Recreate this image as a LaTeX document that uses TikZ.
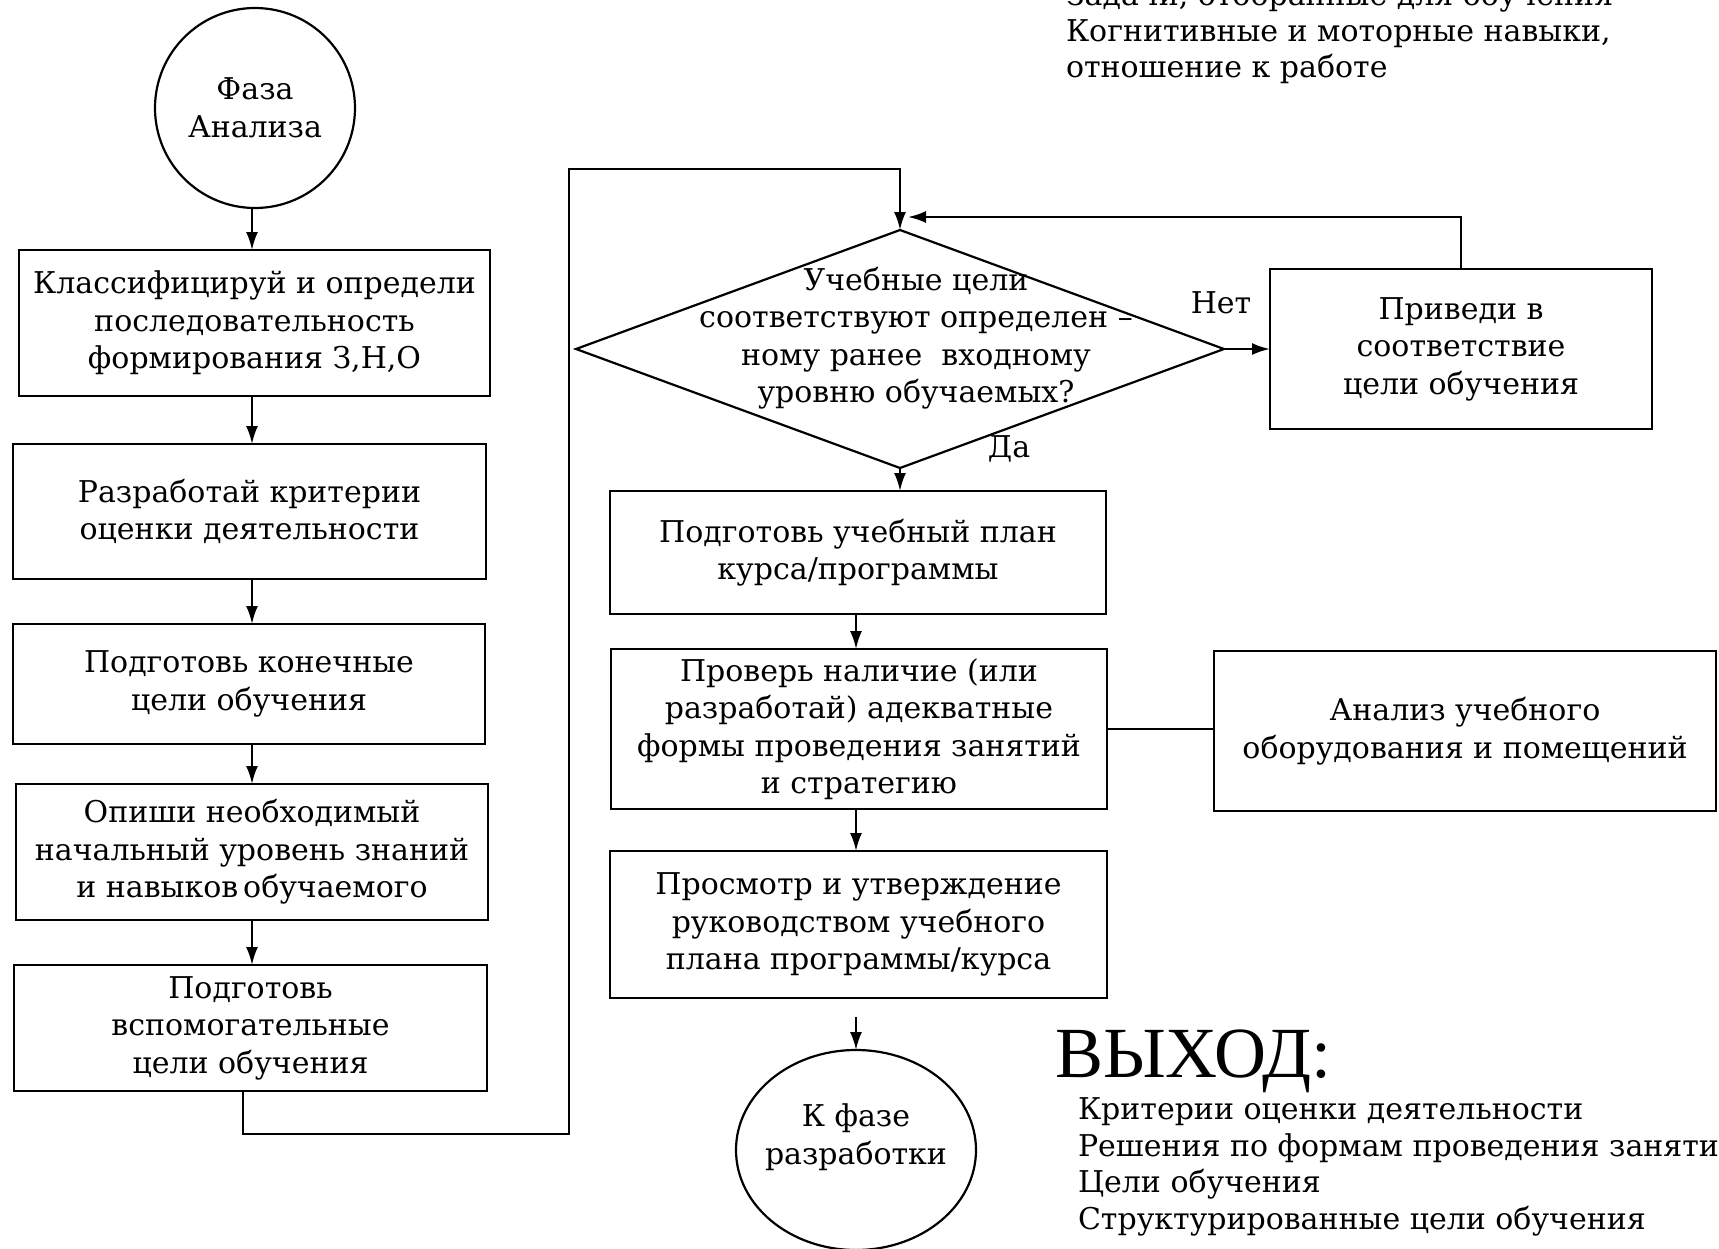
\documentclass[tikz,border=0pt]{standalone}
\usepackage{fontspec}
\setmainfont{DejaVu Serif}
\newfontfamily\headfont{Liberation Serif}
\usetikzlibrary{shapes.geometric,arrows.meta}

\begin{document}
\begin{tikzpicture}[x=1pt,y=-1pt,
  line width=2.2pt,
  every node/.style={inner sep=0pt, outer sep=0pt},
  txt/.style={font=\fontsize{30}{37.5}\selectfont, align=center},
  box/.style={draw, rectangle, txt},
  lst/.style={font=\fontsize{30}{36}\selectfont, anchor=base west},
  arr/.style={-{Latex[length=18pt,width=12pt]}}]

\fill[white] (0,0) rectangle (1719,1248);
\clip (0,0) rectangle (1719,1248);

% ---------- left column ----------
\node[circle, draw, minimum size=200, txt] (c1) at (255,108) {Фаза\\Анализа};
\node[box, minimum width=471, minimum height=146] (b1) at (254.5,323)
  {Классифицируй и определи\\последовательность\\формирования З,Н,О};
\node[box, minimum width=473, minimum height=135] (b2) at (249.5,511.5)
  {Разработай критерии\\оценки деятельности};
\node[box, minimum width=472, minimum height=120] (b3) at (249,684)
  {Подготовь конечные\\цели обучения};
\node[box, minimum width=472, minimum height=136] (b4) at (252,852)
  {Опиши необходимый\\начальный уровень знаний\\и навыков\,обучаемого};
\node[box, minimum width=473, minimum height=126] (b5) at (250.5,1028)
  {Подготовь\\вспомогательные\\цели обучения};

% vertical axis of the left column's arrows
\coordinate (lx) at (252,0);
\draw[arr] (lx |- c1.south) -- (lx |- b1.north);
\draw[arr] (lx |- b1.south) -- (lx |- b2.north);
\draw[arr] (lx |- b2.south) -- (lx |- b3.north);
\draw[arr] (lx |- b3.south) -- (lx |- b4.north);
\draw[arr] (lx |- b4.south) -- (lx |- b5.north);

% ---------- decision ----------
\node[diamond, draw, minimum width=648, minimum height=238] (dq) at (900,349) {};
\node[txt] (dqt) at (916,338)
  {Учебные цели\\соответствуют определен –\\ному ранее \ входному\\уровню обучаемых?};

\coordinate (lp1) at (243,1134);
\coordinate (lp2) at (569,1134);
\coordinate (lp3) at (569,169);
\coordinate (jn) at (900,217);
\draw[arr] (lp1 |- b5.south) -- (lp1) -- (lp2) -- (lp3) -- (lp3 -| dq.north) -- (dq.north);

\node[box, minimum width=382, minimum height=160] (rb) at (1461,349)
  {Приведи в\\соответствие\\цели обучения};
\draw[arr] (dq.east) -- (dq.east -| rb.west);
\draw[arr] (rb.north) -- (rb.north |- jn) -- ([xshift=8]jn);

\node[txt] (no) at (1221,303) {Нет};
\node[txt] (yes) at (1009,449) {Да};

% ---------- right column ----------
\node[box, minimum width=496, minimum height=123] (b6) at (858,552.5)
  {Подготовь учебный план\\курса/программы};
\node[box, minimum width=496, minimum height=160] (b7) at (859,729)
  {Проверь наличие (или\\разработай) адекватные\\формы проведения занятий\\и стратегию};
\node[box, minimum width=502, minimum height=160] (b8) at (1465,731)
  {Анализ учебного\\оборудования и помещений};
\node[box, minimum width=497, minimum height=147] (b9) at (858.5,924.5)
  {Просмотр и утверждение\\руководством учебного\\плана программы/курса};

\coordinate (rx) at (856,0);
\draw[arr] (dq.south) -- (dq.south |- b6.north);
\draw[arr] (rx |- b6.south) -- (rx |- b7.north);
\draw (b7.east) -- (b7.east -| b8.west);
\draw[arr] (rx |- b7.south) -- (rx |- b9.north);

\node[ellipse, draw, minimum width=240, minimum height=200] (c2) at (856,1150) {};
\node[txt] (c2t) at (856,1137) {К фазе\\разработки};
\coordinate (fo) at (856,1017);
\draw[arr] (fo) -- (c2.north);

% ---------- inputs / outputs ----------
\node[lst] (in1) at (1066,5) {Задачи, отобранные для обучения};
\node[lst] (in2) at (1066,41) {Когнитивные и моторные навыки,};
\node[lst] (in3) at (1066,77) {отношение к работе};

\node[font=\headfont\fontsize{72}{80}\selectfont, anchor=base west] (out) at (1055,1077) {ВЫХОД:};
\node[lst] (o1) at (1078,1119) {Критерии оценки деятельности};
\node[lst] (o2) at (1078,1156) {Решения по формам проведения занятий};
\node[lst] (o3) at (1078,1192) {Цели обучения};
\node[lst] (o4) at (1078,1229) {Структурированные цели обучения};

\end{tikzpicture}
\end{document}
